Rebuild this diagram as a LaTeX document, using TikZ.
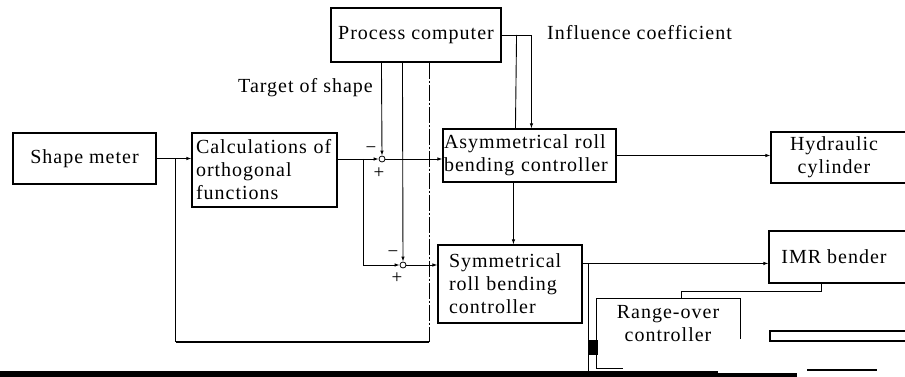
\documentclass[tikz,border=0pt]{standalone}
\usepackage{fontspec}
\setmainfont{Liberation Serif}[LetterSpace=5]
\usetikzlibrary{arrows.meta,calc}
\begin{document}
\begin{tikzpicture}[x=1pt,y=-1pt,
  txt/.style={font=\fontsize{20}{23}\selectfont},
  box/.style={draw, line width=1.1pt, inner sep=0pt, txt},
  ln/.style={line width=0.9pt},
  arr/.style={ln, -{Latex[length=5pt,width=3.5pt]}},
  sj/.style={circle, draw, line width=0.8pt, fill=white, inner sep=0pt, minimum size=6pt},
  sgn/.style={font=\fontsize{19}{19}\selectfont, inner sep=0pt},
  dashdot/.style={dash pattern=on 16pt off 2pt on 2pt off 2pt}]
\useasboundingbox (0,0) rectangle (905,377);
\clip (0,0) rectangle (905,377);

% boxes
\node[box, minimum width=143pt, minimum height=51pt] (sm) at (84.5,158.5) {Shape meter};
\node[box, minimum width=145pt, minimum height=74pt, text width=137pt, inner xsep=4pt, align=left] (calc) at (264.5,170) {Calculations of\\orthogonal\\functions};
\node[box, minimum width=170pt, minimum height=54pt] (pc) at (416,35) {Process computer};
\node[box, minimum width=173pt, minimum height=53pt, text width=171pt, inner xsep=1pt, align=left] (asym) at (529.5,155.5) {Asymmetrical roll\\bending controller};
\node[box, minimum width=144pt, minimum height=78pt, text width=122pt, inner xsep=11pt, align=left] (symm) at (510,284) {Symmetrical\\roll bending\\controller};
\node[box, minimum width=140pt, minimum height=51pt] (hyd) at (841,157.5) {};
\node[txt, align=center] (hydt) at (834,157.5) {Hydraulic\\cylinder};
\node[box, minimum width=142pt, minimum height=52pt] (imr) at (840,257) {};
\node[txt] (imrt) at (834,257) {IMR bender};
\node[minimum width=143pt, minimum height=69pt, inner sep=0pt] (rover) at (668.5,333.5) {};
\node[txt, align=center] (rovert) at (668,324) {Range-over\\controller};
\node[box, minimum width=141pt, minimum height=10pt] (bx) at (840.5,336) {};
\draw[line width=1.1pt] ($(rover.north east)+(0,40)$) -- (rover.north east) -- (rover.north west) -- (rover.south west) -- ++(26,0);

% summing junctions
\node[sj] (c1) at (382,159) {};
\node[sj] (c2) at (403,265) {};
\node[sgn] (m1) at (371,150) {−};
\node[sgn] (p1) at (379,173) {+};
\node[sgn] (m2) at (393,254) {−};
\node[sgn] (p2) at (397,278) {+};

% labels
\node[txt, anchor=east, inner sep=0pt] (tgt) at (373,88) {Target of shape};
\node[txt, anchor=west, inner sep=0pt] (inf) at (547,33) {Influence coefficient};

% connectors
\coordinate (fb) at ($(sm.east)!0.55!(sm.east -| calc.west)$);
\draw[arr] (sm.east) -- (sm.east -| calc.west);
\coordinate (fbt) at ($(pc.south west)+(99,0)$);
\coordinate (fbc) at ($(fbt)+(0,279)$);
\draw[ln, dashdot] (fbt) -- (fbc);
\draw[line width=2pt] (fbc) -- (fbc -| fb);
\draw[ln] (fbc -| fb) -- (fb);

\draw[arr] (calc.east |- c1) -- (c1.west);
\coordinate (br) at ($(calc.east |- c1)+(26,0)$);
\draw[arr] (br) |- (c2.west);
\draw[arr] ($(pc.south west)+(51,0)$) -- (c1.north);
\draw[arr] ($(pc.south west)+(72,0)$) -- (c2.north);
\draw[arr] (c1.east) -- (c1 -| asym.west);
\draw[arr] (c2.east) -- (c2 -| symm.west);

\draw[arr] (pc.east) -| ($(asym.north west)+(89,0)$);
\draw[ln] ($(pc.east)+(15,0)$) -- ($(asym.north west)+(73,0)$);
\draw[arr] ($(asym.south west)+(71,0)$) -- ($(symm.north west)+(76,0)$);
\draw[arr] (asym.east) -- (asym.east -| hyd.west);

\coordinate (so) at ($(symm.north east)+(0,19)$);
\draw[arr] (so) -- (so -| imr.west);
\coordinate (sb) at ($(so)+(6,0)$);
\draw[ln] (sb) -- ++(0,108);
\draw[ln] ($(imr.south west)+(53,0)$) -- ++(0,8) -| ($(rover.north west)+(85,0)$);

% scan artefacts at the bottom edge
\fill (0,371) rectangle (718,377);
\fill (718,373) rectangle (797,377);
\fill (588,340) rectangle (598,355);
\draw[line width=1.5pt] (807,370) -- (877,370);
\end{tikzpicture}
\end{document}
